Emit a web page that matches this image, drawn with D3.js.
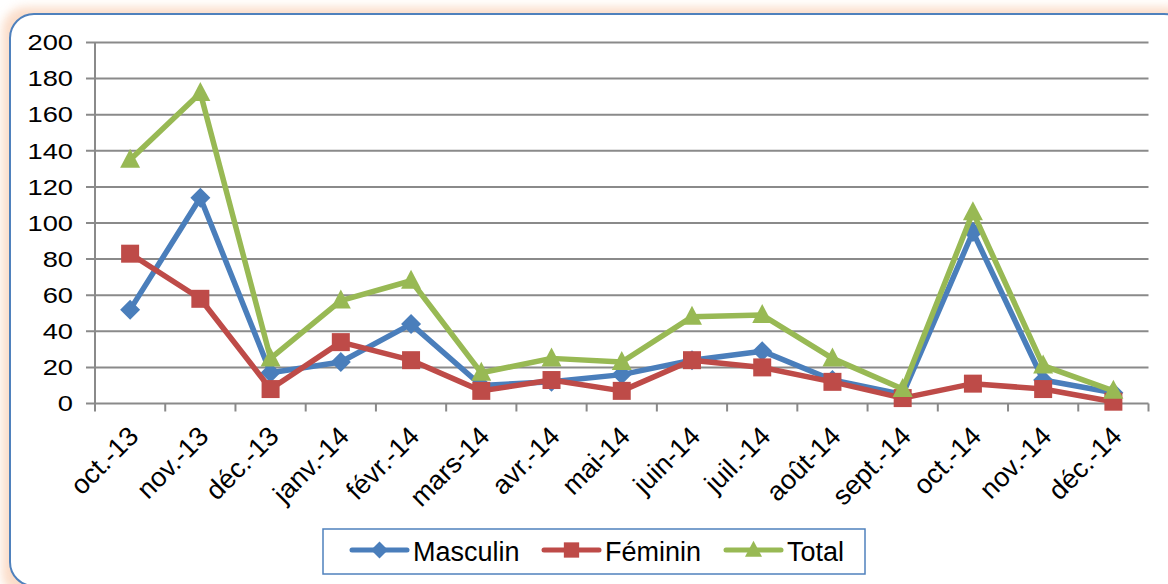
<!DOCTYPE html>
<html><head><meta charset="utf-8">
<script src="https://cdn.jsdelivr.net/npm/d3@7"></script>
<style>html,body{margin:0;padding:0;background:#fff;}svg{display:block;}</style>
</head><body>
<svg id="c" width="1168" height="584"></svg>
<script>
const categories = ["oct.-13","nov.-13","déc.-13","janv.-14","févr.-14","mars-14","avr.-14","mai-14","juin-14","juil.-14","août-14","sept.-14","oct.-14","nov.-14","déc.-14"];
const masculin = [52,114,17,23,44,10,12,16,24,29,13,5,95,13,6];
const feminin  = [83,58,8,34,24,7,13,7,24,20,12,3,11,8,1];
const total    = [135,172,25,57,68,17,25,23,48,49,25,8,106,21,7];
const yTicks = [0,20,40,60,80,100,120,140,160,180,200];
const seriesNames = ["Masculin","Féminin","Total"];

const svg = d3.select("#c");
const defs = svg.append("defs");
const f = defs.append("filter").attr("id","glow").attr("x","-5%").attr("y","-10%").attr("width","110%").attr("height","120%");
f.append("feGaussianBlur").attr("stdDeviation",5);

// glow background
svg.append("rect").attr("x",2).attr("y",7).attr("width",1190).attr("height",590).attr("rx",24)
  .attr("fill","#f9d2b8").attr("opacity",0.75).attr("filter","url(#glow)");
// frame
svg.append("rect").attr("x",10).attr("y",14).attr("width",1178).attr("height",572).attr("rx",24)
  .attr("fill","#fff").attr("stroke","#4f81bd").attr("stroke-width",2);

const x = d3.scaleBand().domain(categories).range([95,1148.5]);
const y = d3.scaleLinear().domain([0,200]).range([403.5,42.5]);
const gridColor = "#8a8a8a";

// gridlines
svg.append("g").selectAll("line").data(yTicks).join("line")
  .attr("x1",86).attr("x2",1148.5).attr("y1",d=>y(d)).attr("y2",d=>y(d))
  .attr("stroke",gridColor).attr("stroke-width",2);
// y axis line
svg.append("line").attr("x1",95).attr("x2",95).attr("y1",y(200)).attr("y2",y(0)+8)
  .attr("stroke",gridColor).attr("stroke-width",2);
// x ticks at band boundaries
const bounds = categories.map(c=>x(c)).concat([x.range()[1]]);
svg.append("g").selectAll("line").data(bounds.slice(1)).join("line")
  .attr("x1",d=>d).attr("x2",d=>d).attr("y1",y(0)).attr("y2",y(0)+8)
  .attr("stroke",gridColor).attr("stroke-width",2);

// y labels
svg.append("g").selectAll("text").data(yTicks).join("text")
  .attr("transform",d=>`translate(73,${y(d)}) scale(1.27,1)`)
  .attr("dy","0.36em").attr("text-anchor","end")
  .attr("font-family","Liberation Sans, Arial, sans-serif").attr("font-size",21.5).attr("fill","#000")
  .text(d=>d);

// x labels
svg.append("g").selectAll("text").data(categories).join("text")
  .attr("transform",d=>`translate(${x(d)+x.bandwidth()/2+3},431) rotate(-45)`)
  .attr("dy","0.36em").attr("text-anchor","end")
  .attr("font-family","Liberation Sans, Arial, sans-serif").attr("font-size",27).attr("fill","#000")
  .text(d=>d);

const cx = d=>x(d)+x.bandwidth()/2;
const series = [
  {name:seriesNames[0], vals:masculin, color:"#4a7ebb", sym:"diamond"},
  {name:seriesNames[1], vals:feminin, color:"#be4b48", sym:"square"},
  {name:seriesNames[2], vals:total, color:"#98b954", sym:"triangle"}
];
const line = d3.line().x(d=>cx(d.c)).y(d=>y(d.v));
function markerPath(s){
  if(s.sym==="diamond") return "M0,-10L10,0L0,10L-10,0Z";
  if(s.sym==="triangle") return "M0,-11L10,8L-10,8Z";
  return "M-9,-9L9,-9L9,9L-9,9Z";
}
series.forEach(s=>{
  const pts = categories.map((c,i)=>({c, v:s.vals[i]}));
  const g = svg.append("g");
  g.append("path").datum(pts).attr("d",line).attr("fill","none")
    .attr("stroke",s.color).attr("stroke-width",5.5).attr("stroke-linejoin","round");
  g.selectAll("path.m").data(pts).join("path").attr("class","m")
    .attr("d",markerPath(s)).attr("transform",d=>`translate(${cx(d.c)},${y(d.v)})`)
    .attr("fill",s.color);
});

// legend
svg.append("rect").attr("x",323).attr("y",529).attr("width",542).attr("height",45)
  .attr("fill","#fff").attr("stroke","#4f81bd").attr("stroke-width",1.5);
const legX = [352,544,726];
series.forEach((s,i)=>{
  const g = svg.append("g").attr("transform",`translate(${legX[i]},550)`);
  g.append("line").attr("x1",0).attr("x2",55).attr("y1",0).attr("y2",0)
    .attr("stroke",s.color).attr("stroke-width",5).attr("stroke-linecap","round");
  g.append("path").attr("d",markerPath(s)).attr("transform","translate(27.5,0) scale(0.85)").attr("fill",s.color);
  g.append("text").attr("x",61).attr("y",11).attr("font-family","Liberation Sans, Arial, sans-serif")
    .attr("font-size",27).attr("fill","#000").text(s.name);
});
</script>
</body></html>
